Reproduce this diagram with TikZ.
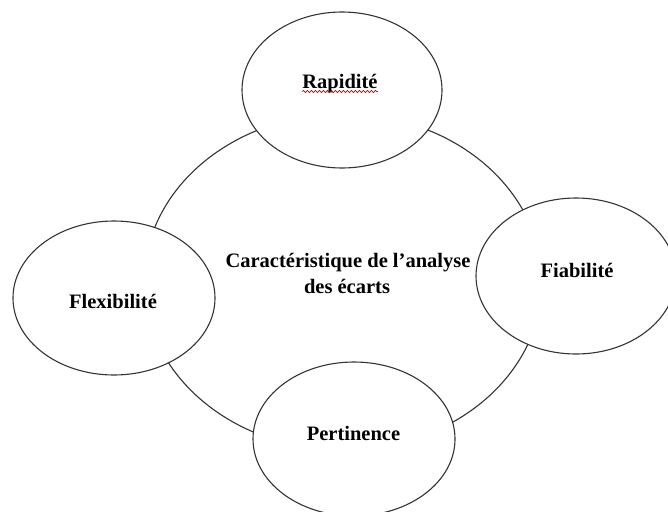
\documentclass[tikz,border=0pt]{standalone}
\usepackage{fontspec}
\setmainfont{Liberation Serif}
\usetikzlibrary{shapes.geometric,decorations.pathmorphing}
\begin{document}
\begin{tikzpicture}[x=1pt,y=-1pt,
  ring/.style={draw=black!80,line width=1.1pt},
  bubble/.style={ellipse,draw=black!80,fill=white,line width=1.1pt,inner sep=0pt},
  lbl/.style={font=\bfseries\fontsize{20.5}{26}\selectfont,anchor=base,inner sep=0pt}]
\useasboundingbox (0,0) rectangle (668,511);
% central ring
\node[ellipse,ring,minimum width=398pt,minimum height=336pt,inner sep=0pt] (core) at (343,282) {};
% surrounding bubbles
\node[bubble,minimum width=200pt,minimum height=156pt] (top) at (342,90) {};
\node[bubble,minimum width=202pt,minimum height=154pt] (left) at (114,298) {};
\node[bubble,minimum width=200pt,minimum height=156pt] (right) at (576,276) {};
\node[bubble,minimum width=202pt,minimum height=154pt] (bottom) at (354,439) {};
% labels
\node[lbl] (t1) at (340,88) {Rapidité};
\draw[red!85!black,line width=0.7pt,decorate,decoration={snake,amplitude=1.1pt,segment length=4pt}]
  ([yshift=-3.5pt]t1.base west) -- ([yshift=-3.5pt]t1.base east);
\node[lbl] (c1) at (348,267) {Caractéristique de l’analyse};
\node[lbl] (c2) at (347,293) {des écarts};
\node[lbl] (t2) at (113,308) {Flexibilité};
\node[lbl] (t3) at (577,277) {Fiabilité};
\node[lbl] (t4) at (353.5,440) {Pertinence};
\end{tikzpicture}
\end{document}
